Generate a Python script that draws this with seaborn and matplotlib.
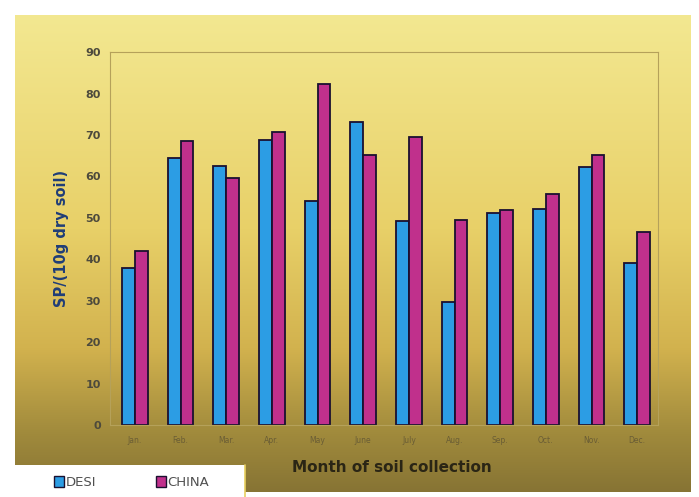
import matplotlib
matplotlib.use("Agg")
import matplotlib.pyplot as plt
from matplotlib.colors import LinearSegmentedColormap
from matplotlib.patches import Patch
import numpy as np
import pandas as pd
import seaborn as sns

months = ["Jan.", "Feb.", "Mar.", "Apr.", "May", "June", "July",
          "Aug.", "Sep.", "Oct.", "Nov.", "Dec."]
desi = [38, 64.5, 62.5, 68.8, 54, 73.2, 49.3, 29.7, 51.2, 52.2, 62.3, 39.1]
china = [42, 68.6, 59.7, 70.8, 82.4, 65.2, 69.6, 49.5, 52, 55.8, 65.2, 46.6]

df = pd.DataFrame({
    "month": months * 2,
    "value": desi + china,
    "variety": ["DESI"] * len(months) + ["CHINA"] * len(months),
})

sns.set_style("white")
plt.rcParams["font.family"] = ["DejaVu Sans"]

fig = plt.figure(figsize=(6.99, 4.97), dpi=100)

# gradient panel behind the chart (pale yellow at top, olive at bottom)
bg = fig.add_axes([0.021, 0.01, 0.966, 0.96], zorder=0)
cmap = LinearSegmentedColormap.from_list(
    "panel", [(0.0, "#877434"), (0.12, "#a08a3c"), (0.3, "#d2b24e"),
              (0.55, "#e8d068"), (1.0, "#f3e891")])
grad = np.linspace(0, 1, 256).reshape(-1, 1)
bg.imshow(grad, aspect="auto", cmap=cmap, extent=[0, 1, 0, 1], origin="lower")
bg.set_axis_off()

ax = fig.add_axes([0.157, 0.145, 0.784, 0.75], zorder=1)
ax.patch.set_alpha(0)

sns.barplot(data=df, x="month", y="value", hue="variety",
            palette={"DESI": "#2c9de4", "CHINA": "#c0308c"},
            width=0.56, edgecolor="#1a1030", linewidth=1.3,
            saturation=1, ax=ax, legend=False)

ax.set_ylim(0, 90)
ax.set_yticks(range(0, 91, 10))
ax.set_xlim(-0.55, 11.45)
for s in ax.spines.values():
    s.set_color("#b5a15a")
    s.set_linewidth(0.8)

ax.tick_params(axis="y", labelsize=8, colors="#4d4a3c", length=3)
ax.tick_params(axis="x", labelsize=5.5, colors="#6a5d35", length=0, pad=8)
for t in ax.get_yticklabels():
    t.set_fontweight("bold")

ax.set_xlabel("Month of soil collection", fontsize=11, fontweight="bold",
              color="#2a2515", labelpad=4)
ax.xaxis.set_label_coords(0.515, -0.095)
ax.set_ylabel("SP/(10g dry soil)", fontsize=10.5, fontweight="bold",
              color="#1f3d78", labelpad=12)

# legend in a white box at the bottom-left
fig.patches.append(plt.Rectangle((0.0, 0.0), 0.351, 0.064, transform=fig.transFigure,
                                 facecolor="white", edgecolor="none", zorder=2))
fig.add_artist(plt.Line2D([0.351, 0.351], [0.0, 0.064], transform=fig.transFigure,
                          color="#e8d060", linewidth=1.2, zorder=3))
handles = [Patch(facecolor="#2c9de4", edgecolor="#1a1030", label="DESI"),
           Patch(facecolor="#c0308c", edgecolor="#1a1030", label="CHINA")]
leg = fig.legend(handles=handles, loc="lower left", bbox_to_anchor=(0.06, -0.008),
                 ncol=2, frameon=False, fontsize=9.5, handlelength=0.8,
                 handleheight=0.8, handletextpad=0.1, columnspacing=4.5)
for t in leg.get_texts():
    t.set_color("#505050")

fig.savefig("out.png", dpi=100)
